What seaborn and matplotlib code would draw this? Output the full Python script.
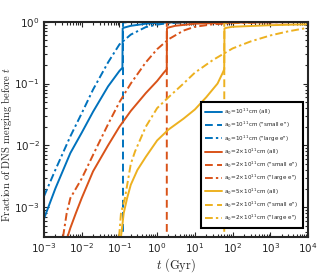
import seaborn as sns
import matplotlib
matplotlib.use("Agg")
import matplotlib.pyplot as plt
import numpy as np

# a0 = 1e11 cm
t_b_all = [1e-3, 2e-3, 5e-3, 1e-2, 2e-2, 5e-2, 0.1, 0.12, 0.122, 0.13, 0.2, 0.5, 1, 3, 10, 1e4]
f_b_all = [6.5e-4, 2.0e-3, 7.5e-3, 1.6e-2, 3.5e-2, 9e-2, 0.16, 0.18, 0.78, 0.80, 0.86, 0.93, 0.96, 0.98, 0.99, 1.0]
t_b_small = [0.124, 0.1245, 0.13, 0.2, 0.5, 1, 1e4]
f_b_small = [1e-6, 0.97, 0.975, 0.985, 0.99, 0.995, 1.0]
t_b_large = [1e-3, 2e-3, 5e-3, 1e-2, 2e-2, 5e-2, 0.1, 0.2, 0.5, 1, 2, 10, 1e4]
f_b_large = [1.5e-3, 4.0e-3, 1.4e-2, 3.3e-2, 8e-2, 0.22, 0.43, 0.62, 0.82, 0.9, 0.95, 0.98, 1.0]

# a0 = 2e11 cm
t_o_all = [4.2e-3, 5e-3, 7e-3, 1e-2, 2e-2, 5e-2, 0.1, 0.2, 0.5, 1, 1.5, 1.8, 1.82, 1.9, 3, 10, 100, 1e4]
f_o_all = [3.3e-4, 4.6e-4, 8e-4, 1.4e-3, 3.8e-3, 1.0e-2, 2.0e-2, 3.6e-2, 7e-2, 0.11, 0.15, 0.17, 0.78, 0.8, 0.86, 0.93, 0.97, 0.99]
t_o_small = [1.8, 1.805, 2, 5, 20, 1e4]
f_o_small = [1e-6, 0.96, 0.97, 0.98, 0.99, 1.0]
t_o_large = [3.2e-3, 4e-3, 5e-3, 1e-2, 2e-2, 5e-2, 0.1, 0.2, 0.5, 1, 2, 5, 10, 30, 100, 1e3, 1e4]
f_o_large = [3.3e-4, 8e-4, 1.4e-3, 2.9e-3, 7e-3, 2.2e-2, 5e-2, 0.1, 0.22, 0.36, 0.52, 0.72, 0.83, 0.91, 0.95, 0.98, 0.99]

# a0 = 5e11 cm
t_y_all = [0.11, 0.13, 0.16, 0.2, 0.3, 0.5, 1, 2, 5, 10, 20, 40, 55, 60, 61, 70, 100, 1e3, 1e4]
f_y_all = [3.3e-4, 8e-4, 1.4e-3, 2.3e-3, 4e-3, 6.5e-3, 1.2e-2, 1.8e-2, 2.7e-2, 3.8e-2, 6e-2, 0.1, 0.15, 0.17, 0.78, 0.8, 0.83, 0.88, 0.91]
t_y_small = [60, 60.3, 70, 200, 1e3, 1e4]
f_y_small = [1e-6, 0.96, 0.97, 0.98, 0.99, 1.0]
t_y_large = [0.098, 0.11, 0.14, 0.2, 0.26, 0.5, 1, 2, 5, 10, 30, 100, 300, 1e3, 3e3, 1e4]
f_y_large = [3.3e-4, 8e-4, 1.4e-3, 5e-3, 8e-3, 2.0e-2, 4e-2, 6e-2, 0.1, 0.15, 0.24, 0.37, 0.48, 0.6, 0.7, 0.8]

labels = [
    r"a$_\mathdefault{0}$=10$^\mathdefault{11}$cm (all)",
    r'a$_\mathdefault{0}$=10$^\mathdefault{11}$cm ("small e")',
    r'a$_\mathdefault{0}$=10$^\mathdefault{11}$cm ("large e")',
    r"a$_\mathdefault{0}$=2×10$^\mathdefault{11}$cm (all)",
    r'a$_\mathdefault{0}$=2×10$^\mathdefault{11}$cm ("small e")',
    r'a$_\mathdefault{0}$=2×10$^\mathdefault{11}$cm ("large e")',
    r"a$_\mathdefault{0}$=5×10$^\mathdefault{11}$cm (all)",
    r'a$_\mathdefault{0}$=2×10$^\mathdefault{11}$cm ("small e")',
    r'a$_\mathdefault{0}$=2×10$^\mathdefault{11}$cm ("large e")',
]

series = [
    (t_b_all, f_b_all), (t_b_small, f_b_small), (t_b_large, f_b_large),
    (t_o_all, f_o_all), (t_o_small, f_o_small), (t_o_large, f_o_large),
    (t_y_all, f_y_all), (t_y_small, f_y_small), (t_y_large, f_y_large),
]
colors = ["#0072BD"] * 3 + ["#D95319"] * 3 + ["#EDB120"] * 3
styles = ["-", (0, (4, 2.2)), (0, (4, 1.6, 1.2, 1.6))] * 3

sns.set_style("ticks")
plt.rcParams["font.family"] = ["DejaVu Sans"]
plt.rcParams["mathtext.fontset"] = "cm"

fig = plt.figure(figsize=(3.2, 2.79), dpi=100)
ax = fig.add_axes([0.1375, 0.151, 0.825, 0.771])

for (t, f), c, ls, lab in zip(series, colors, styles, labels):
    sns.lineplot(x=t, y=f, color=c, linestyle=ls, linewidth=1.4, label=lab,
                 sort=False, estimator=None, ax=ax)

ax.set_xscale("log")
ax.set_yscale("log")
ax.set_xlim(1e-3, 1e4)
ax.set_ylim(3.3e-4, 1)
ax.set_xticks([1e-3, 1e-2, 1e-1, 1e0, 1e1, 1e2, 1e3, 1e4])
ax.set_yticks([1e-3, 1e-2, 1e-1, 1e0])
ax.tick_params(which="both", direction="in", top=True, right=True, width=0.8,
               labelsize=7.5, pad=3)
ax.tick_params(which="major", length=3.5)
ax.tick_params(which="minor", length=2)
for s in ax.spines.values():
    s.set_linewidth(1.5)

ax.set_ylabel(r"$\mathrm{Fraction\ of\ DNS\ merging\ before}\ t$", fontsize=7.6)
ax.yaxis.set_label_coords(-0.112, 0.43)
ax.set_xlabel(r"$t\ \mathrm{(Gyr)}$", fontsize=9, labelpad=1)

leg = ax.legend(loc="lower right", bbox_to_anchor=(0.99, 0.03), fontsize=4.1,
                handlelength=3.0, labelspacing=0.5, borderpad=0.8,
                handletextpad=0.3, fancybox=False, framealpha=1)
leg.get_frame().set_edgecolor("black")
leg.get_frame().set_linewidth(1.5)

fig.savefig("out.png", dpi=100)
